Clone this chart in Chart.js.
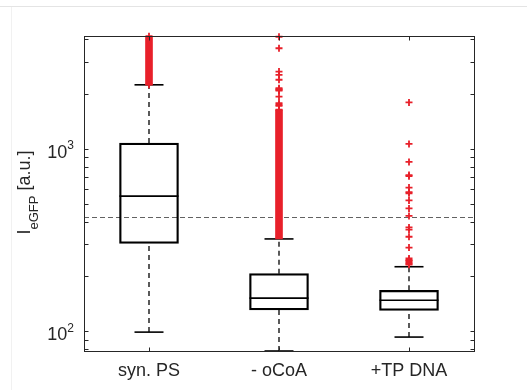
<!DOCTYPE html>
<html>
<head>
<meta charset="utf-8">
<script src="https://cdn.jsdelivr.net/npm/chart.js@4.4.1/dist/chart.umd.min.js"></script>
<style>
  html, body { margin: 0; padding: 0; background: #fff; }
  #wrap { position: relative; width: 527px; height: 390px; overflow: hidden; }
  #frameTop { position: absolute; left: 0; top: 6px; width: 527px; height: 1px; background: #e4e4e4; }
  #frameLeft { position: absolute; left: 11px; top: 7px; width: 1px; height: 383px; background: #f1f1f1; }
  #chart { position: absolute; left: 0; top: 0; }
</style>
</head>
<body>
<div id="wrap">
  <div id="frameTop"></div>
  <div id="frameLeft"></div>
  <canvas id="chart" width="527" height="390"></canvas>
</div>
<script>
/* data */
const categories = ['syn. PS', '- oCoA', '+TP DNA'];
const q1 = [303, 131, 130];
const median = [551, 152, 148];
const q3 = [1078, 207, 168];
const whiskerLow = [99, 78, 93];
const whiskerHigh = [2246, 321, 226];
// ranges where the outlier crosses merge into a solid red bar
const denseLow = [2246, 321, null];
const denseHigh = [4150, 1640, null];
const outliersSynPS = [2250, 4150];
const outliersOCoA = [1640, 1720, 1746, 1780, 1937, 2090, 2109, 2130, 2153, 2395, 2547, 2655, 3565, 4120];
const outliersTPDNA = [232, 235, 238, 243, 246, 251, 288, 330, 361, 371, 429, 472, 522, 571, 580, 614, 709, 719, 849, 1065, 1799];
const threshold = 425;
const yMin = 78, yMax = 4160;
const majorTicks = [100, 1000];
const minorTicks = [80, 90, 200, 300, 400, 500, 600, 700, 800, 900, 2000, 3000, 4000];

const red = '#E8202A';
const axisColor = '#262626';
const fontFamily = "'Liberation Sans', Arial, sans-serif";
const font = { family: fontFamily, size: 18 };

const outlierPoints = [outliersSynPS, outliersOCoA, outliersTPDNA]
  .flatMap((vals, i) => vals.map(v => ({ x: categories[i], y: v })));

const segment = (i, a, b) => ({
  type: 'line',
  data: [{ x: categories[i], y: a }, { x: categories[i], y: b }],
  borderColor: '#000',
  borderWidth: 1.3,
  borderDash: [5, 4],
  pointRadius: 0,
  order: 3
});

const hline = (vals, r) => ({
  type: 'line',
  data: vals,
  showLine: false,
  pointStyle: 'line',
  pointRadius: r,
  borderColor: '#000',
  pointBorderColor: '#000',
  pointBorderWidth: 1.6,
  clip: false,
  order: 2
});

const datasets = [
  {
    type: 'line',
    data: outlierPoints,
    showLine: false,
    pointStyle: 'cross',
    pointRadius: 3.5,
    pointBorderColor: red,
    pointBorderWidth: 1.8,
    clip: false,
    order: 0
  },
  {
    type: 'bar',
    data: denseLow.map((v, i) => v === null ? null : [v, denseHigh[i]]),
    backgroundColor: red,
    barThickness: 7,
    grouped: false,
    order: 1
  },
  hline(median, 29.5),
  hline(whiskerHigh, 14.5),
  hline(whiskerLow, 14.5),
  {
    type: 'bar',
    data: q1.map((v, i) => [v, q3[i]]),
    backgroundColor: 'rgba(0,0,0,0)',
    borderColor: '#000',
    borderWidth: 1.6,
    borderSkipped: false,
    barThickness: 59,
    grouped: false,
    order: 4
  },
  ...categories.map((c, i) => segment(i, q3[i], whiskerHigh[i])),
  ...categories.map((c, i) => segment(i, whiskerLow[i], q1[i]))
];

/* matlab style box, inward ticks, threshold, 10^n labels and y label */
const axesPlugin = {
  id: 'axesBox',
  beforeDatasetsDraw(chart) {
    const { ctx, chartArea: a, scales: { y } } = chart;
    const py = Math.round(y.getPixelForValue(threshold)) + 0.5;
    ctx.save();
    ctx.strokeStyle = '#3a3a3a';
    ctx.lineWidth = 0.8;
    ctx.setLineDash([5, 3]);
    ctx.beginPath();
    ctx.moveTo(a.left, py);
    ctx.lineTo(a.right, py);
    ctx.stroke();
    ctx.restore();
  },
  afterDraw(chart) {
    const { ctx, chartArea: a, scales: { x, y } } = chart;
    const L = a.left + 0.5, R = a.right + 0.5, T = a.top + 0.5, B = a.bottom + 0.5;
    const len = 4;
    ctx.save();
    ctx.strokeStyle = axisColor;
    ctx.lineWidth = 1;
    ctx.strokeRect(L, T, R - L, B - T);
    ctx.beginPath();
    majorTicks.concat(minorTicks).forEach(v => {
      if (v < yMin || v > yMax) return;
      const py = Math.round(y.getPixelForValue(v)) + 0.5;
      ctx.moveTo(L, py); ctx.lineTo(L + len, py);
      ctx.moveTo(R, py); ctx.lineTo(R - len, py);
    });
    categories.forEach((c, i) => {
      const px = Math.round(x.getPixelForValue(i)) + 0.5;
      ctx.moveTo(px, B); ctx.lineTo(px, B - len);
      ctx.moveTo(px, T); ctx.lineTo(px, T + len);
    });
    ctx.stroke();

    // y tick labels 10^n with a real superscript
    ctx.fillStyle = axisColor;
    ctx.textBaseline = 'alphabetic';
    majorTicks.forEach(v => {
      const py = y.getPixelForValue(v);
      const exp = String(Math.round(Math.log10(v)));
      ctx.font = '12px ' + fontFamily;
      const we = ctx.measureText(exp).width;
      ctx.textAlign = 'right';
      ctx.fillText(exp, a.left - 10, py + 0.5);
      ctx.font = '18px ' + fontFamily;
      ctx.fillText('10', a.left - 10 - we, py + 9);
    });
    ctx.textAlign = 'left';

    // y title: I_eGFP [a.u.]
    ctx.translate(30, 192.5);
    ctx.rotate(-Math.PI / 2);
    const big = '18px ' + fontFamily;
    const small = '13px ' + fontFamily;
    ctx.font = big;
    const w1 = ctx.measureText('I').width;
    const w3 = ctx.measureText(' [a.u.]').width;
    ctx.font = small;
    const w2 = ctx.measureText('eGFP').width;
    let sx = -(w1 + w2 + w3) / 2;
    ctx.font = big;
    ctx.fillText('I', sx, 0);
    sx += w1;
    ctx.font = small;
    ctx.fillText('eGFP', sx, 8);
    sx += w2;
    ctx.font = big;
    ctx.fillText(' [a.u.]', sx, 0);
    ctx.restore();
  }
};

new Chart(document.getElementById('chart'), {
  data: { labels: categories, datasets: datasets },
  options: {
    responsive: false,
    animation: false,
    events: [],
    layout: { padding: { left: 0, right: 53, top: 36, bottom: 0 } },
    plugins: { legend: { display: false }, tooltip: { enabled: false } },
    scales: {
      x: {
        type: 'category',
        offset: true,
        grid: { display: false, drawTicks: false },
        border: { display: false },
        ticks: { font: font, color: axisColor, padding: 9, maxRotation: 0, autoSkip: false },
        afterFit: s => { s.height = 39; }
      },
      y: {
        type: 'logarithmic',
        min: yMin,
        max: yMax,
        grid: { display: false, drawTicks: false },
        border: { display: false },
        afterBuildTicks: s => { s.ticks = majorTicks.map(v => ({ value: v })); },
        ticks: { display: false },
        afterFit: s => { s.width = 84; }
      }
    }
  },
  plugins: [axesPlugin]
});
</script>
</body>
</html>
